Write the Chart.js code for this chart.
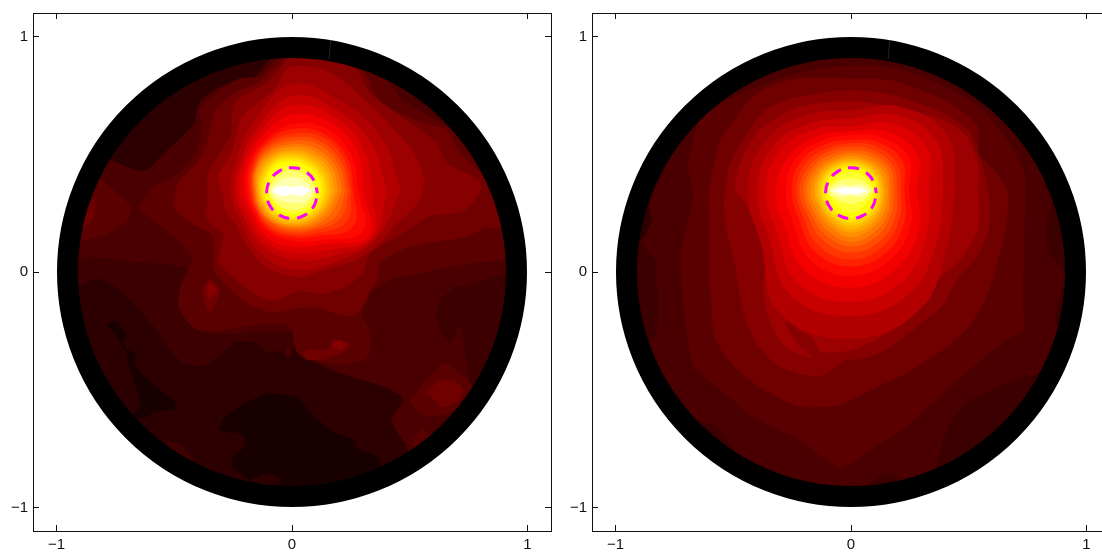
<!DOCTYPE html>
<html>
<head>
<meta charset="utf-8">
<script src="https://cdn.jsdelivr.net/npm/chart.js@4/dist/chart.umd.min.js"></script>
<style>
  html, body { margin: 0; padding: 0; background: #fff; overflow: hidden; }
  #wrap { position: relative; width: 1102px; height: 552px; overflow: hidden; }
  canvas { position: absolute; top: 0; }
  #leftMap { left: 0; }
  #rightMap { left: 559px; }
</style>
</head>
<body>
<div id="wrap">
  <canvas id="leftMap" width="559" height="552" style="width:559px;height:552px"></canvas>
  <canvas id="rightMap" width="559" height="552" style="width:559px;height:552px"></canvas>
</div>
<script>
const tickValues = [-1, 0, 1];
const tickLabels = ['\u22121', '0', '1'];

// contour bands, dark to bright
const bandColors = [
  '#180000', '#2c0000', '#3c0000', '#4a0000', '#5a0000', '#700000', '#860000', '#9c0000',
  '#b20000', '#c80000', '#de0000', '#f40000', '#ff0a00', '#ff2000', '#ff3600', '#ff4c00',
  '#ff6200', '#ff7800', '#ff8e00', '#ffa400', '#ffba00', '#ffd000', '#ffe600', '#fffc00',
  '#ffff30', '#ffff70', '#ffffb0', '#ffffff'
];

const spotCenter = [0, 0.345];
const circleCenter = [0, 0.335];
const spotAngles = [0, 30, 60, 90, 120, 150, 180, 210, 240, 270, 300, 330];
const circleRadii = [0.108, 0.108, 0.108, 0.108, 0.108, 0.108, 0.108, 0.108, 0.108, 0.108, 0.108, 0.108];
const firstSpotBand = 8;

// each outline: band index, then x,y pairs
const leftBaseBand = 3;
const leftOutlines = [
  [2, -.93,.04, -.86,.06, -.65,.04, -.46,.02, -.38,-.02, -.40,-.25, .05,-.26, .06,-.36, .2,-.5, -.6,-.7, -.92,-.28],
  [1, -.93,-.06, -.89,-.055, -.82,-.03, -.73,-.08, -.66,-.15, -.59,-.23, -.53,-.32, -.46,-.39, -.38,-.40, -.31,-.36, -.24,-.30, -.16,-.30, -.11,-.34, .03,-.33, .05,-.36, .20,-.43, .39,-.49, .47,-.54, .42,-.63, .49,-.76, .44,-.83, 0,-.95, -.44,-.83, -.77,-.53, -.91,-.28],
  [2, -.54,-.72, -.48,-.73, -.42,-.80, -.5,-.80],
  [0, -.31,-.67, -.285,-.62, -.22,-.57, -.11,-.52, -.05,-.52, .03,-.54, .08,-.60, .175,-.68, .26,-.715, .275,-.75, .36,-.785, .375,-.83, .2,-.92, -.15,-.93, -.18,-.885, -.25,-.83, -.25,-.79, -.20,-.74, -.21,-.69],
  [1, -.18,-.885, -.11,-.86, -.05,-.88, -.1,-.93],
  [0, -.79,-.225, -.75,-.21, -.71,-.26, -.72,-.32, -.67,-.345, -.67,-.395, -.59,-.48, -.50,-.55, -.50,-.58, -.58,-.59, -.63,-.62, -.67,-.61, -.64,-.56, -.66,-.49, -.69,-.40, -.70,-.345, -.75,-.26],
  [1, -.79,.50, -.77,.48, -.63,.43, -.55,.50, -.42,.63, -.39,.73, -.28,.80, -.16,.83, -.11,.89, -.08,.92, -.22,.91, -.42,.84, -.64,.67],
  [4, -.81,.39, -.69,.28, -.70,.22, -.79,.16, -.89,.14, -.92,.2, -.90,.33],
  [5, -.84,.31, -.84,.24, -.89,.19, -.92,.25],
  [2, .615,-.175, .63,-.12, .69,-.07, .76,-.055, .90,-.012, .95,-.05, .92,-.24, .8,-.5, .76,-.47, .74,-.36, .715,-.225, .67,-.295, .63,-.245],
  [4, .50,-.55, .57,-.46, .65,-.39, .71,-.43, .76,-.48, .73,-.56, .66,-.60, .56,-.61],
  [5, .575,-.51, .62,-.47, .68,-.46, .725,-.50, .70,-.55, .635,-.57],
  [4, .51,-.73, .55,-.67, .59,-.71, .55,-.76],
  [3, -.03,-.34, -.015,-.32, -.005,-.345, -.02,-.36],
  [4, -.65,.27, -.59,.36, -.49,.41, -.41,.50, -.38,.63, -.39,.69, -.31,.77, -.22,.82, -.14,.83, -.08,.89, 0,.95, .3,.90, .6,.73, .78,.56, .90,.32, .94,.10, .92,.06, .76,.04, .56,0, .42,-.03, .34,-.08, .31,-.13, .30,-.19, .33,-.26, .32,-.36, .20,-.39, .08,-.37, .03,-.35, .01,-.30, 0,-.24, -.05,-.22, -.22,-.23, -.31,-.25, -.41,-.24, -.48,-.15, -.47,-.06, -.44,.01, -.42,.06, -.50,.15],
  [3, .42,.80, .46,.74, .56,.675, .62,.645, .70,.60, .58,.76, .44,.84],
  [5, -.38,-.08, -.35,-.03, -.31,-.08, -.35,-.17],
  [6, -.36,-.07, -.35,-.045, -.32,-.076, -.35,-.11],
  [5, .05,-.345, .075,-.33, .15,-.33, .175,-.29, .25,-.31, .20,-.345, .13,-.37, .06,-.37],
  [6, .17,-.31, .2,-.29, .23,-.31, .2,-.33],
  [5, -.50,.31, -.48,.38, -.39,.48, -.36,.55, -.32,.69, -.24,.76, -.15,.80, -.05,.89, 0,.94, .2,.92, .31,.84, .35,.75, .42,.69, .56,.63, .66,.60, .70,.52, .79,.43, .87,.36, .92,.25, .90,.19, .83,.19, .73,.15, .50,.11, .37,.04, .36,-.03, .33,-.08, .31,-.13, .27,-.18, .20,-.18, .12,-.15, .03,-.15, -.08,-.17, -.19,-.13, -.28,-.05, -.33,.01, -.33,.08, -.34,.16, -.43,.21, -.49,.26],
  [6, -.36,.35, -.35,.43, -.26,.58, -.24,.72, -.11,.80, -.03,.89, 0,.93, .15,.91, .27,.86, .33,.76, .46,.66, .61,.55, .66,.46, .79,.39, .80,.35, .73,.26, .59,.24, .46,.16, .33,.08, .30,0, .23,-.06, .13,-.09, .03,-.08, -.08,-.12, -.16,-.09, -.24,-.03, -.28,.01, -.31,.04, -.29,.16, -.33,.19, -.36,.23, -.36,.31],
  [7, -.29,.31, -.31,.41, -.25,.52, -.21,.66, -.08,.77, -.01,.87, .13,.86, .23,.80, .32,.72, .42,.62, .52,.50, .56,.38, .53,.29, .44,.20, .37,.12, .27,.05, .13,.01, .03,-.02, -.11,.02, -.19,.11, -.23,.19, -.28,.26]
];
const leftSpotRadii = [
  [.46, .44, .43, .45, .33, .27, .26, .25, .29, .33, .35, .41],
  [.40, .39, .39, .40, .30, .25, .24, .23, .26, .29, .32, .40],
  [.34, .35, .36, .36, .28, .235, .225, .21, .24, .26, .29, .39],
  [.30, .32, .33, .32, .26, .22, .205, .195, .22, .235, .26, .375],
  [.28, .29, .30, .28, .24, .21, .19, .185, .20, .21, .24, .345],
  [.26, .27, .275, .26, .23, .20, .18, .175, .19, .195, .22, .30],
  [.25, .255, .26, .24, .22, .19, .17, .17, .18, .185, .205, .265],
  [.24, .24, .24, .225, .21, .185, .165, .165, .17, .175, .19, .235],
  [.225, .225, .225, .21, .20, .18, .16, .16, .16, .165, .18, .215],
  [.21, .21, .205, .195, .19, .175, .155, .155, .155, .155, .17, .19],
  [.195, .195, .19, .185, .18, .17, .15, .15, .15, .15, .16, .175],
  [.18, .18, .175, .17, .17, .16, .145, .142, .142, .143, .15, .16],
  [.165, .165, .16, .16, .16, .15, .14, .135, .135, .135, .14, .15],
  [.15, .15, .148, .148, .15, .14, .132, .128, .127, .125, .13, .14],
  [.138, .138, .135, .138, .14, .13, .125, .12, .118, .118, .122, .13],
  [.125, .125, .122, .125, .128, .12, .115, .11, .108, .11, .113, .118],
  [.11, .105, .10, .105, .108, .102, .10, .095, .095, .095, .10, .105],
  [.10, .09, .085, .085, .085, .088, .095, .085, .08, .08, .085, .09],
  [.09, .07, .06, .055, .06, .07, .088, .07, .055, .05, .06, .075],
  [.08, .04, .016, .012, .016, .04, .08, .04, .016, .012, .016, .04]
];

const rightBaseBand = 3;
const rightOutlines = [
  [2, -.78,.48, -.80,.41, -.855,.31, -.86,.22, -.89,.14, -.83,.04, -.83,-.03, -.82,-.13, -.83,-.26, -.855,-.30, -.89,-.3, -.95,0, -.90,.3, -.82,.48],
  [1, -.86,.27, -.85,.22, -.89,.14, -.93,.2, -.90,.3],
  [2, -.74,-.52, -.66,-.63, -.635,-.64, -.586,-.65, -.53,-.71, -.50,-.76, -.57,-.80, -.68,-.68],
  [2, .36,-.83, .39,-.73, .43,-.63, .50,-.55, .56,-.52, .67,-.47, .80,-.43, .84,-.42, .72,-.66, .47,-.82],
  [2, .80,.39, .855,.31, .83,.21, .84,.09, .91,-.01, .87,-.16, .88,-.23, .92,-.2, .95,.1, .90,.3],
  [2, .075,-.90, .15,-.86, .20,-.885, .15,-.92],
  [4, -.64,.66, -.50,.74, -.36,.80, -.2,.85, 0,.875, .175,.866, .345,.81, .53,.71, .63,.60, .73,.43, .735,.22, .73,-.03, .73,-.18, .73,-.25, .67,-.28, .53,-.39, .37,-.53, .23,-.66, .10,-.74, -.04,-.83, -.10,-.80, -.22,-.71, -.33,-.66, -.44,-.60, -.50,-.54, -.59,-.47, -.67,-.39, -.69,-.30, -.71,-.13, -.72,.01, -.72,.08, -.67,.32, -.69,.45, -.66,.59],
  [5, -.56,.55, -.43,.73, -.33,.79, -.22,.82, 0,.82, .175,.81, .39,.73, .53,.63, .54,.55, .54,.50, .59,.45, .66,.35, .66,.22, .63,.08, .60,-.03, .56,-.13, .50,-.23, .40,-.32, .25,-.42, .10,-.49, -.04,-.56, -.10,-.57, -.22,-.57, -.33,-.52, -.44,-.45, -.53,-.36, -.58,-.26, -.59,-.15, -.60,.01, -.60,.22, -.60,.36, -.57,.49],
  [6, -.49,.03, -.53,.2, -.536,.31, -.515,.45, -.44,.59, -.36,.69, -.23,.74, 0,.77, .175,.75, .39,.675, .50,.60, .53,.53, .57,.40, .59,.22, .54,.08, .45,-.03, .42,-.08, .40,-.13, .32,-.20, .19,-.30, .15,-.33, .03,-.37, -.03,-.37, -.06,-.40, -.13,-.44, -.22,-.43, -.32,-.39, -.40,-.30, -.44,-.22, -.46,-.15],
  [7, -.37,-.03, -.345,.08, -.37,.11, -.44,.28, -.49,.35, -.47,.46, -.40,.59, -.32,.65, -.22,.70, 0,.725, .175,.70, .39,.645, .49,.575, .54,.45, .54,.35, .54,.19, .46,.05, .37,-.03, .33,-.12, .22,-.22, .10,-.29, .005,-.33, -.06,-.34, -.16,-.36, -.26,-.33, -.32,-.26, -.36,-.15],
  [6, -.28,-.22, -.25,-.20, -.22,-.25, -.17,-.275, -.13,-.34, -.07,-.345, -.15,-.36, -.22,-.31]
];
const rightSpotRadii = [
  [.44, .47, .41, .34, .37, .42, .437, .44, .60, .627, .58, .47],
  [.39, .42, .37, .305, .33, .38, .395, .40, .51, .53, .50, .42],
  [.33, .37, .33, .27, .30, .345, .36, .36, .45, .47, .44, .37],
  [.28, .32, .29, .25, .27, .30, .316, .32, .39, .41, .38, .33],
  [.245, .28, .26, .235, .245, .27, .274, .28, .34, .36, .335, .29],
  [.225, .25, .235, .213, .225, .245, .25, .25, .30, .32, .30, .26],
  [.21, .225, .215, .20, .205, .225, .23, .23, .27, .29, .27, .235],
  [.195, .205, .195, .185, .19, .205, .217, .21, .24, .26, .245, .215],
  [.18, .19, .18, .17, .175, .19, .20, .195, .215, .235, .22, .195],
  [.165, .175, .165, .157, .16, .175, .185, .18, .195, .215, .20, .18],
  [.155, .16, .15, .145, .148, .16, .17, .165, .175, .195, .18, .165],
  [.143, .145, .14, .135, .138, .15, .155, .15, .16, .175, .165, .15],
  [.133, .135, .13, .125, .128, .138, .143, .14, .147, .16, .15, .14],
  [.123, .125, .12, .117, .12, .128, .13, .13, .135, .145, .137, .13],
  [.113, .115, .11, .108, .11, .118, .12, .12, .125, .13, .125, .12],
  [.103, .105, .10, .098, .10, .105, .108, .105, .11, .115, .11, .108],
  [.095, .085, .08, .08, .08, .085, .10, .085, .085, .09, .085, .085],
  [.09, .07, .055, .05, .055, .07, .095, .07, .055, .055, .055, .07],
  [.085, .05, .025, .02, .025, .05, .085, .05, .025, .02, .025, .05],
  [.07, .025, .012, .01, .012, .025, .07, .025, .012, .01, .012, .025]
];

const ringSeam = [[0.164, 0.987], [0.158, 0.905]];

function closedOutline(flat) {
  const pts = [];
  for (let i = 0; i < flat.length; i += 2) pts.push({ x: flat[i], y: flat[i + 1] });
  pts.push(pts[0]);
  return pts;
}

function polarOutline(center, radii) {
  const pts = radii.map((r, i) => {
    const a = (spotAngles[i] * Math.PI) / 180;
    return { x: center[0] + r * Math.cos(a), y: center[1] + r * Math.sin(a) };
  });
  pts.push(pts[0]);
  return pts;
}

function bandDataset(points, band, tension) {
  return {
    data: points,
    showLine: true,
    fill: 'shape',
    backgroundColor: bandColors[band],
    borderColor: bandColors[band],
    borderWidth: 1,
    tension: tension,
    pointRadius: 0
  };
}

function buildDatasets(baseBand, outlines, spotRadii) {
  const sets = [];
  sets.push({ data: [{ x: 0, y: 0 }], pointRadius: 226, pointBackgroundColor: bandColors[baseBand], pointBorderWidth: 0 });
  outlines.forEach((o) => sets.push(bandDataset(closedOutline(o.slice(1)), o[0], 0.25)));
  spotRadii.forEach((r, i) => sets.push(bandDataset(polarOutline(spotCenter, r), firstSpotBand + i, 0.42)));
  // black rim
  sets.push({ data: [{ x: 0, y: 0 }], pointRadius: 224.5, pointBackgroundColor: 'rgba(0,0,0,0)', pointBorderColor: '#000', pointBorderWidth: 21 });
  sets.push({
    data: ringSeam.map((p) => ({ x: p[0], y: p[1] })),
    showLine: true,
    borderColor: 'rgba(255,255,255,0.2)',
    borderWidth: 0.7,
    pointRadius: 0
  });
  // dashed marker
  sets.push({
    data: polarOutline(circleCenter, circleRadii),
    showLine: true,
    borderColor: '#ff00ff',
    borderWidth: 3,
    borderDash: [11, 7.6],
    borderDashOffset: 5.5,
    tension: 0.4,
    pointRadius: 0
  });
  // first dataset is painted last
  return sets.reverse();
}

function axis(position, size, showLabels) {
  return {
    type: 'linear',
    position: position,
    min: -1.1,
    max: 1.1,
    afterBuildTicks: (s) => { s.ticks = tickValues.map((v) => ({ value: v })); },
    afterFit: (s) => {
      if (position === 'left' || position === 'right') s.width = size;
      else s.height = size;
      s.paddingTop = s.paddingBottom = s.paddingLeft = s.paddingRight = 0;
    },
    border: { display: true, color: '#111', width: 1 },
    grid: { drawOnChartArea: false, drawTicks: true, tickLength: -6, tickColor: '#111', tickWidth: 1 },
    ticks: {
      display: showLabels,
      autoSkip: false,
      maxRotation: 0,
      padding: 11,
      color: '#111',
      font: { family: '"Liberation Sans", Arial, sans-serif', size: 15 },
      callback: (v, i) => tickLabels[i]
    }
  };
}

function drawMap(id, baseBand, outlines, spotRadii) {
  new Chart(document.getElementById(id).getContext('2d'), {
    type: 'scatter',
    data: { datasets: buildDatasets(baseBand, outlines, spotRadii) },
    options: {
      responsive: false,
      animation: false,
      layout: { padding: 0, autoPadding: false },
      plugins: { legend: { display: false }, tooltip: { enabled: false } },
      scales: {
        x: axis('bottom', 21, true),
        y: axis('left', 33, true),
        xTop: axis('top', 13, false),
        yRight: axis('right', 8, false)
      }
    }
  });
}

drawMap('leftMap', leftBaseBand, leftOutlines, leftSpotRadii);
drawMap('rightMap', rightBaseBand, rightOutlines, rightSpotRadii);
</script>
</body>
</html>
